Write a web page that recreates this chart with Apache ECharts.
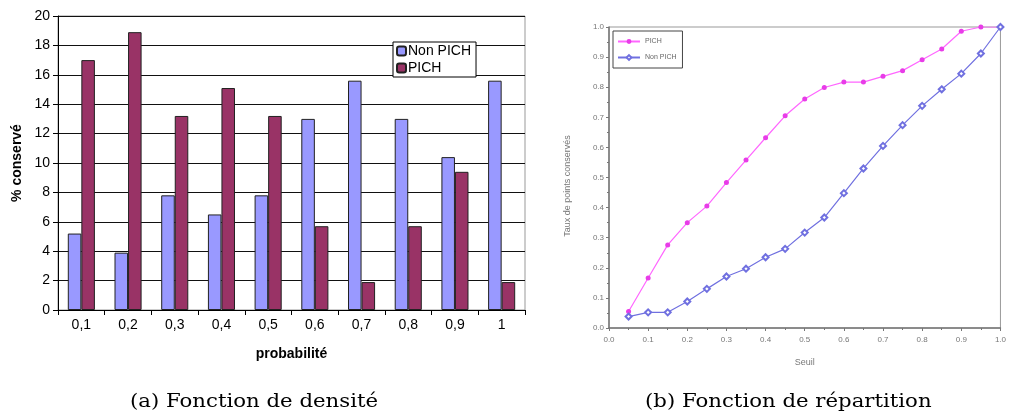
<!DOCTYPE html>
<html><head><meta charset="utf-8">
<script src="https://cdn.jsdelivr.net/npm/echarts@6/dist/echarts.min.js"></script>
<style>html,body{margin:0;padding:0;background:#fff}#c{width:1009px;height:417px}</style>
</head><body><div id="c"></div>
<script>
const categories = ['0,1','0,2','0,3','0,4','0,5','0,6','0,7','0,8','0,9','1'];
const nonPichDensity = [5.2, 3.9, 7.8, 6.5, 7.8, 13.0, 15.6, 13.0, 10.4, 15.6];
const pichDensity = [17.0, 18.9, 13.2, 15.1, 13.2, 5.7, 1.9, 5.7, 9.4, 1.9];
const thresholds = [0.05,0.10,0.15,0.20,0.25,0.30,0.35,0.40,0.45,0.50,0.55,0.60,0.65,0.70,0.75,0.80,0.85,0.90,0.95,1.00];
const pichCumul = [0.055,0.166,0.276,0.350,0.405,0.483,0.558,0.632,0.705,0.761,0.799,0.817,0.817,0.836,0.855,0.891,0.927,0.986,1.0,1.0];
const nonPichCumul = [0.038,0.052,0.052,0.088,0.130,0.171,0.197,0.235,0.263,0.317,0.367,0.448,0.530,0.605,0.674,0.738,0.793,0.845,0.912,1.0];

const chart = echarts.init(document.getElementById('c'), null, {renderer:'canvas'});
const sans = 'Liberation Sans, Arial, sans-serif';
const gray = '#777';
const serif = '18px "DejaVu Serif", serif';
chart.setOption({
  animation:false,
  textStyle:{fontFamily:sans},
  grid:[
    {left:58, top:16, width:467, height:294, show:true, borderColor:'#999', borderWidth:1, backgroundColor:'transparent'},
    {left:609, top:27, width:398, height:301, show:true, borderColor:'#999', borderWidth:1}
  ],
  legend:[
    {data:['Non PICH','PICH'], orient:'vertical', left:393, top:42, itemGap:3, padding:[2,5,2,3],
     itemWidth:9, itemHeight:9, backgroundColor:'#fff', borderColor:'#000', borderWidth:1, borderRadius:0,
     textStyle:{fontSize:14, color:'#000', fontFamily:sans, padding:[0,0,0,-3]}},
    {data:['PICH ','Non PICH '], orient:'vertical', left:613, top:31, itemGap:9, padding:[7,4,7,4],
     itemWidth:22, itemHeight:6, backgroundColor:'#fff', borderColor:'#444', borderWidth:1, borderRadius:0,
     textStyle:{fontSize:7, color:'#666', fontFamily:sans}}
  ],
  xAxis:[
    {type:'category', gridIndex:0, data:categories,
     axisLine:{lineStyle:{color:'#000'}}, axisTick:{show:true, length:5, lineStyle:{color:'#000'}},
     axisLabel:{fontSize:14, color:'#000', margin:8},
     name:'probabilité', nameLocation:'middle', nameGap:37,
     nameTextStyle:{fontSize:14, fontWeight:'bold', color:'#000'}},
    {type:'value', gridIndex:1, min:0, max:1, interval:0.1,
     axisLine:{lineStyle:{color:gray, width:1.5}}, axisTick:{length:3, lineStyle:{color:gray}},
     minorTick:{show:true, splitNumber:2, length:2, lineStyle:{color:gray}},
     splitLine:{show:false},
     axisLabel:{fontSize:8, color:'#777', margin:8, formatter:v=>v.toFixed(1)},
     name:'Seuil', nameLocation:'middle', nameGap:30, nameTextStyle:{fontSize:9, color:'#777'}}
  ],
  yAxis:[
    {type:'value', gridIndex:0, min:0, max:20, interval:2,
     axisLine:{show:true, lineStyle:{color:'#000'}}, axisTick:{show:true, length:5, lineStyle:{color:'#000'}},
     splitLine:{lineStyle:{color:'#111', width:1}},
     axisLabel:{fontSize:14, color:'#000', margin:8},
     name:'% conservé', nameLocation:'middle', nameGap:34, nameRotate:90,
     nameTextStyle:{fontSize:14, fontWeight:'bold', color:'#000'}},
    {type:'value', gridIndex:1, min:0, max:1, interval:0.1,
     axisLine:{show:true, lineStyle:{color:gray, width:1.5}}, axisTick:{show:true, length:3, lineStyle:{color:gray}},
     minorTick:{show:true, splitNumber:2, length:2, lineStyle:{color:gray}},
     splitLine:{show:false},
     axisLabel:{fontSize:8, color:'#777', margin:5, formatter:v=>v.toFixed(1)}}
  ],
  series:[
    {name:'Non PICH', type:'bar', xAxisIndex:0, yAxisIndex:0, data:nonPichDensity,
     barGap:'0%', barCategoryGap:'42%', itemStyle:{color:'#9999FF', borderColor:'#222', borderWidth:1}},
    {name:'PICH', type:'bar', xAxisIndex:0, yAxisIndex:0, data:pichDensity,
     barGap:'0%', barCategoryGap:'42%', itemStyle:{color:'#993366', borderColor:'#222', borderWidth:1}},
    {name:'PICH ', type:'line', xAxisIndex:1, yAxisIndex:1, data:thresholds.map((t,i)=>[t,pichCumul[i]]),
     symbol:'circle', symbolSize:5, lineStyle:{color:'#ff66ff', width:1.2},
     itemStyle:{color:'#e83ce8'}},
    {name:'Non PICH ', type:'line', xAxisIndex:1, yAxisIndex:1, data:thresholds.map((t,i)=>[t,nonPichCumul[i]]),
     symbol:'emptyDiamond', symbolSize:6, lineStyle:{color:'#7070e0', width:1.2},
     itemStyle:{color:'#7070e0', borderWidth:1}}
  ],
  graphic:[
    {type:'text', x:568, y:186, rotation:Math.PI/2,
     style:{text:'Taux de points conservés', font:'9px "Liberation Sans", sans-serif', fill:'#777', textAlign:'center', textVerticalAlign:'middle'}},
    {type:'text', x:130, y:402, scaleX:1.18,
     style:{text:'(a) Fonction de densité', font:serif, fill:'#000', textVerticalAlign:'middle'}},
    {type:'text', x:645, y:402, scaleX:1.18,
     style:{text:'(b) Fonction de répartition', font:serif, fill:'#000', textVerticalAlign:'middle'}}
  ]
});
</script></body></html>
